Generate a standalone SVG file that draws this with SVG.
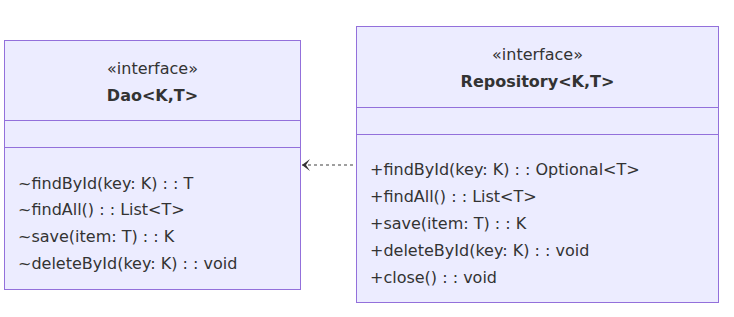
<svg xmlns="http://www.w3.org/2000/svg" width="734" height="317" viewBox="0 0 734 317">
<style>
.box{fill:#ECECFF;stroke:#9370DB;stroke-width:1}
.div{stroke:#9370DB;stroke-width:1}
text{font-family:"DejaVu Sans",Verdana,sans-serif;font-size:16px;fill:#333333;dominant-baseline:central}
.c{text-anchor:middle}
.b{font-weight:bold}
.conn{stroke:#808080;stroke-width:1.5;stroke-dasharray:3 3;fill:none}
.head{fill:#333333;stroke:none}
</style>
<defs>
<marker id="dep" viewBox="0 0 10 14" refX="1" refY="7" markerWidth="10" markerHeight="14" markerUnits="userSpaceOnUse" orient="auto" overflow="visible">
<path class="head" d="M5,7 L9,13 L1,7 L9,1 Z"/>
</marker>
</defs>
<rect width="734" height="317" fill="#ffffff"/>
<g id="connectors">
<path class="conn" d="M302,165 L356,165" marker-start="url(#dep)"/>
</g>
<g id="Dao">
<rect class="box" x="4.5" y="40.5" width="296" height="249"/>
<line class="div" x1="4.5" y1="120.5" x2="300.5" y2="120.5"/>
<line class="div" x1="4.5" y1="147.5" x2="300.5" y2="147.5"/>
<text class="c" x="152.5" y="68">«interface»</text>
<text class="c b" x="152.5" y="95">Dao&lt;K,T&gt;</text>
<text x="18" y="183">~findById(key: K) : : T</text>
<text x="18" y="209">~findAll() : : List&lt;T&gt;</text>
<text x="18" y="236">~save(item: T) : : K</text>
<text x="18" y="263">~deleteById(key: K) : : void</text>
</g>
<g id="Repository">
<rect class="box" x="356.5" y="26.5" width="362" height="276"/>
<line class="div" x1="356.5" y1="107.5" x2="718.5" y2="107.5"/>
<line class="div" x1="356.5" y1="134.5" x2="718.5" y2="134.5"/>
<text class="c" x="537.5" y="54">«interface»</text>
<text class="c b" x="537.5" y="81">Repository&lt;K,T&gt;</text>
<text x="370" y="169">+findById(key: K) : : Optional&lt;T&gt;</text>
<text x="370" y="196">+findAll() : : List&lt;T&gt;</text>
<text x="370" y="223">+save(item: T) : : K</text>
<text x="370" y="250">+deleteById(key: K) : : void</text>
<text x="370" y="277">+close() : : void</text>
</g>
</svg>
